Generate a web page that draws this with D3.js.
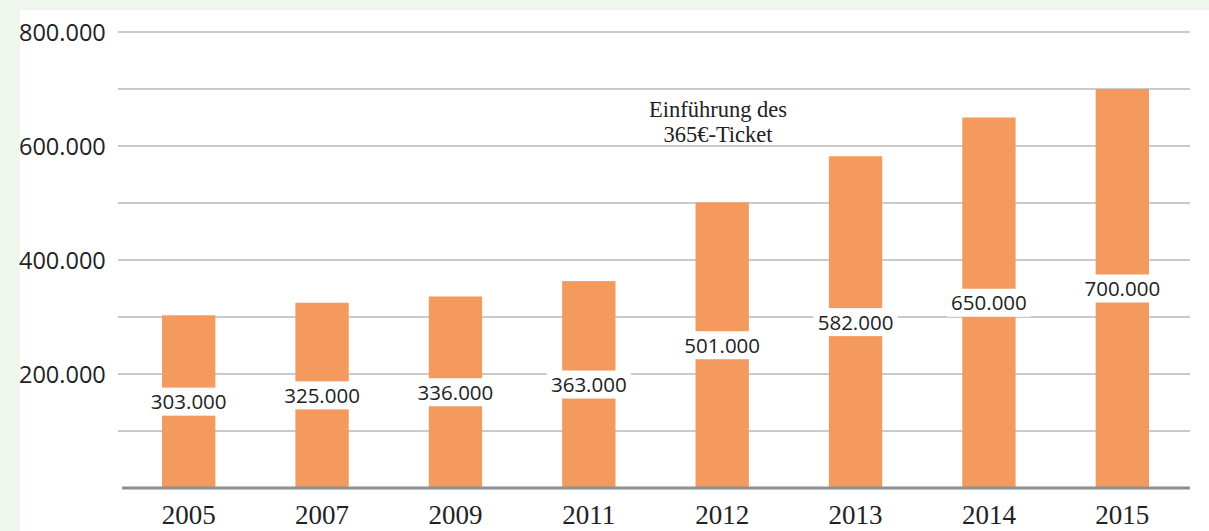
<!DOCTYPE html>
<html>
<head>
<meta charset="utf-8">
<script src="https://cdn.jsdelivr.net/npm/d3@7"></script>
<style>
  body { margin: 0; background: #eff6ed; }
  svg { display: block; }
</style>
</head>
<body>
<svg id="chart"></svg>
<script>
const years = ["2005", "2007", "2009", "2011", "2012", "2013", "2014", "2015"];
const riders = [303000, 325000, 336000, 363000, 501000, 582000, 650000, 700000];
const labelTicks = [200000, 400000, 600000, 800000];
const gridTicks = [100000, 200000, 300000, 400000, 500000, 600000, 700000, 800000];
const noteLines = ["Einführung des", "365€-Ticket"];

const width = 1209, height = 531;
const barColor = "#f59a5e";
const gridColor = "#b9b9b9";
const axisColor = "#8c9198";
const textColor = "#222";

const svg = d3.select("#chart").attr("width", width).attr("height", height);

// light green frame, white panel
svg.append("rect").attr("width", width).attr("height", height).attr("fill", "#eff6ed");
svg.append("rect").attr("x", 20).attr("y", 10).attr("width", width - 20).attr("height", height - 10).attr("fill", "#fff");

const x = d3.scaleBand().domain(years).range([122, 1189]).paddingInner(0.6).paddingOuter(0.3);
const y = d3.scaleLinear().domain([0, 800000]).range([488, 32]);

const fmt = v => d3.format(",")(v).replace(/,/g, ".");

// gridlines
svg.selectAll(".grid").data(gridTicks)
    .join("line")
    .attr("class", "grid")
    .attr("x1", 118).attr("x2", 1190)
    .attr("y1", d => y(d)).attr("y2", d => y(d))
    .attr("stroke", gridColor)
    .attr("stroke-width", 1.5);

// y labels
svg.selectAll(".ylab").data(labelTicks)
    .join("text")
    .attr("class", "ylab")
    .attr("x", 19)
    .attr("y", d => y(d) + 9)
    .attr("font-family", "'Open Sans', sans-serif")
    .attr("font-size", 23.5)
    .attr("fill", textColor)
    .text(fmt);

// bars
svg.selectAll(".bar").data(riders)
    .join("rect")
    .attr("class", "bar")
    .attr("x", (d, i) => x(years[i]))
    .attr("width", x.bandwidth())
    .attr("y", d => y(d))
    .attr("height", d => y(0) - y(d))
    .attr("fill", barColor);

// baseline
svg.append("line")
    .attr("x1", 122).attr("x2", 1190)
    .attr("y1", y(0)).attr("y2", y(0))
    .attr("stroke", axisColor)
    .attr("stroke-width", 3);

// value labels in the middle of each bar
const labels = svg.selectAll(".val").data(riders)
    .join("g")
    .attr("class", "val")
    .attr("transform", (d, i) => `translate(${x(years[i]) + x.bandwidth() / 2},${(y(d) + y(0)) / 2})`);

labels.append("rect")
    .attr("x", -42).attr("y", -14)
    .attr("width", 84).attr("height", 28)
    .attr("fill", "#fff");

labels.append("text")
    .attr("text-anchor", "middle")
    .attr("y", 7.5)
    .attr("font-family", "'Open Sans', sans-serif")
    .attr("font-size", 20.5)
    .attr("fill", textColor)
    .text(fmt);

// x axis year labels
svg.selectAll(".year").data(years)
    .join("text")
    .attr("class", "year")
    .attr("x", d => x(d) + x.bandwidth() / 2)
    .attr("y", 524)
    .attr("text-anchor", "middle")
    .attr("font-family", "'Liberation Serif', serif")
    .attr("font-size", 27)
    .attr("fill", textColor)
    .text(d => d);

// annotation
svg.selectAll(".note").data(noteLines)
    .join("text")
    .attr("class", "note")
    .attr("x", 718)
    .attr("y", (d, i) => 117 + i * 25)
    .attr("text-anchor", "middle")
    .attr("font-family", "'Liberation Serif', serif")
    .attr("font-size", 22.5)
    .attr("fill", textColor)
    .text(d => d);
</script>
</body>
</html>
